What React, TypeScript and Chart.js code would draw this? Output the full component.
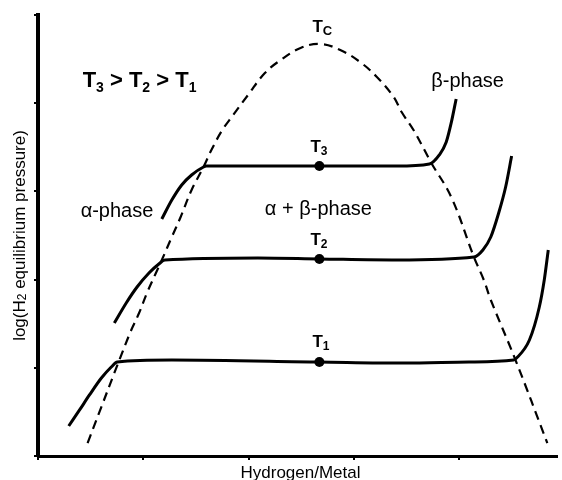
import React, { useEffect, useRef } from "react";
import { Chart, registerables } from "chart.js";

Chart.register(...registerables);

// Axis ticks (no tick labels in the figure)
const xTicks = [0, 1, 2, 3, 4];
const yTicks = [0, 1, 2, 3, 4, 5];
const xMax = 4.93;
const yMax = 5;

// Two-phase boundary (dashed dome)
const domeX = [0.471, 0.866, 0.96, 1.035, 1.12, 1.176, 1.271, 1.355, 1.459, 1.572, 1.647, 1.751, 1.854, 1.995, 2.155, 2.306, 2.494, 2.682, 2.871, 3.059, 3.219, 3.379, 3.454, 3.567, 3.671, 3.736, 3.925, 4.141, 4.235, 4.301, 4.536, 4.838];
const domeY = [0.147, 1.372, 1.621, 1.848, 2.075, 2.222, 2.483, 2.71, 3.016, 3.277, 3.469, 3.696, 3.866, 4.093, 4.342, 4.49, 4.626, 4.671, 4.603, 4.467, 4.297, 4.07, 3.9, 3.696, 3.469, 3.322, 2.937, 2.256, 1.995, 1.769, 1.088, 0.147];

// Isotherm T3
const t3X = [1.176, 1.271, 1.365, 1.459, 1.572, 1.6, 2.673, 3.407, 3.718, 3.812, 3.878, 3.925, 3.972];
const t3Y = [2.687, 2.902, 3.073, 3.186, 3.277, 3.288, 3.288, 3.288, 3.311, 3.413, 3.56, 3.776, 4.048];

// Isotherm T2
const t2X = [0.725, 0.838, 0.941, 1.054, 1.148, 1.205, 2.089, 2.673, 3.407, 4.141, 4.226, 4.301, 4.376, 4.442, 4.499];
const t2Y = [1.508, 1.735, 1.916, 2.075, 2.177, 2.222, 2.245, 2.234, 2.222, 2.256, 2.336, 2.483, 2.755, 3.05, 3.401];

// Isotherm T1
const t1X = [0.292, 0.395, 0.489, 0.602, 0.696, 0.753, 1.271, 2.673, 3.473, 4.094, 4.518, 4.546, 4.668, 4.762, 4.809, 4.847];
const t1Y = [0.34, 0.522, 0.692, 0.884, 1.009, 1.066, 1.088, 1.066, 1.054, 1.066, 1.088, 1.111, 1.315, 1.689, 1.995, 2.336];

// Plateau midpoint markers
const dotX = [2.673, 2.673, 2.673];
const dotY = [3.288, 2.234, 1.066];

// Phase labels
const phaseLabels = ["α-phase", "α + β-phase", "β-phase"];
const phaseLabelX = [0.405, 2.155, 3.736];
const phaseLabelY = [2.71, 2.732, 4.184];

// Temperature labels (T with subscript)
const tempSubs = ["C", "3", "2", "1"];
const tempLabelX = [2.607, 2.588, 2.588, 2.607];
const tempLabelY = [4.807, 3.447, 2.392, 1.236];

// Ordering label "T3 > T2 > T1"
const orderSubs = ["3", "2", "1"];
const orderLabelX = 0.424;
const orderLabelY = 4.184;

const xTitle = "Hydrogen/Metal";
const yTitleParts = ["log(H", "2", " equilibrium pressure)"];

const FONT = '"Liberation Sans", Arial, Helvetica, sans-serif';

type Seg = { t: string; size: number; bold?: boolean; dy?: number };

function segWidth(ctx: CanvasRenderingContext2D, segs: Seg[]) {
  let w = 0;
  for (const s of segs) {
    ctx.font = `${s.bold ? "bold " : ""}${s.size}px ${FONT}`;
    w += ctx.measureText(s.t).width;
  }
  return w;
}

function drawRich(ctx: CanvasRenderingContext2D, segs: Seg[], x: number, y: number) {
  let cx = x;
  for (const s of segs) {
    ctx.font = `${s.bold ? "bold " : ""}${s.size}px ${FONT}`;
    ctx.fillText(s.t, cx, y + (s.dy || 0));
    cx += ctx.measureText(s.t).width;
  }
}

const pts = (xs: number[], ys: number[]) => xs.map((x, i) => ({ x, y: ys[i] }));

const textPlugin = {
  id: "phaseText",
  afterDatasetsDraw(chart: any) {
    const ctx: CanvasRenderingContext2D = chart.ctx;
    const xs = chart.scales.x;
    const ys = chart.scales.y;
    const area = chart.chartArea;
    ctx.save();
    ctx.fillStyle = "#000";
    ctx.textBaseline = "alphabetic";
    ctx.textAlign = "left";

    // phase labels
    phaseLabels.forEach((t, i) => {
      drawRich(ctx, [{ t, size: 20 }], xs.getPixelForValue(phaseLabelX[i]), ys.getPixelForValue(phaseLabelY[i]));
    });

    // temperature labels
    tempSubs.forEach((s, i) => {
      drawRich(
        ctx,
        [
          { t: "T", size: 17, bold: true },
          { t: s, size: i === 0 ? 13 : 12, bold: true, dy: 3 },
        ],
        xs.getPixelForValue(tempLabelX[i]),
        ys.getPixelForValue(tempLabelY[i])
      );
    });

    // ordering label
    const oSegs: Seg[] = [];
    orderSubs.forEach((s, i) => {
      oSegs.push({ t: "T", size: 22, bold: true });
      oSegs.push({ t: s, size: 14, bold: true, dy: 5 });
      if (i < orderSubs.length - 1) oSegs.push({ t: " > ", size: 22, bold: true });
    });
    drawRich(ctx, oSegs, xs.getPixelForValue(orderLabelX), ys.getPixelForValue(orderLabelY));

    // x axis title
    const xSegs: Seg[] = [{ t: xTitle, size: 17 }];
    const xw = segWidth(ctx, xSegs);
    drawRich(ctx, xSegs, (area.left + area.right) / 2 + 3 - xw / 2, area.bottom + 22);

    // y axis title
    const ySegs: Seg[] = [
      { t: yTitleParts[0], size: 17 },
      { t: yTitleParts[1], size: 12, dy: 1 },
      { t: yTitleParts[2], size: 17 },
    ];
    const yw = segWidth(ctx, ySegs);
    ctx.translate(area.left - 13, (area.top + area.bottom) / 2);
    ctx.rotate(-Math.PI / 2);
    drawRich(ctx, ySegs, -yw / 2, 0);
    ctx.restore();
  },
};

export default function App() {
  const ref = useRef<HTMLCanvasElement | null>(null);
  useEffect(() => {
    if (!ref.current) return;
    const lineBase = {
      borderColor: "#000",
      backgroundColor: "#000",
      pointRadius: 0,
      fill: false,
      cubicInterpolationMode: "monotone" as const,
    };
    const chart = new Chart(ref.current, {
      type: "line",
      data: {
        datasets: [
          {
            label: "dome",
            data: pts(domeX, domeY),
            borderColor: "#000",
            pointRadius: 0,
            fill: false,
            tension: 0.4,
            borderWidth: 2.2,
            borderDash: [9, 6],
          },
          { ...lineBase, label: "T3", data: pts(t3X, t3Y), borderWidth: 3 },
          { ...lineBase, label: "T2", data: pts(t2X, t2Y), borderWidth: 3 },
          { ...lineBase, label: "T1", data: pts(t1X, t1Y), borderWidth: 3 },
          {
            label: "dots",
            data: pts(dotX, dotY),
            showLine: false,
            pointRadius: 5,
            pointBackgroundColor: "#000",
            pointBorderColor: "#000",
            pointBorderWidth: 0,
          },
        ],
      },
      options: {
        responsive: false,
        animation: false,
        events: [],
        layout: { padding: { top: 15, right: 0, left: 0, bottom: 0 } },
        plugins: { legend: { display: false }, tooltip: { enabled: false }, title: { display: false } },
        scales: {
          x: {
            type: "linear",
            min: 0,
            max: xMax,
            afterBuildTicks: (s: any) => {
              s.ticks = xTicks.map((v) => ({ value: v }));
            },
            afterFit: (s: any) => {
              s.height = 24;
            },
            ticks: { display: false },
            grid: { drawOnChartArea: false, drawTicks: true, tickLength: 4, color: "#000", lineWidth: 2 },
            border: { display: true, color: "#000", width: 3 },
          },
          y: {
            type: "linear",
            min: 0,
            max: yMax,
            afterBuildTicks: (s: any) => {
              s.ticks = yTicks.map((v) => ({ value: v }));
            },
            afterFit: (s: any) => {
              s.width = 38;
            },
            ticks: { display: false },
            grid: { drawOnChartArea: false, drawTicks: true, tickLength: 4, color: "#000", lineWidth: 2 },
            border: { display: true, color: "#000", width: 4 },
          },
        },
      },
      plugins: [textPlugin],
    });
    return () => chart.destroy();
  }, []);
  return (
    <div style={{ position: "absolute", left: 0, top: 0, width: 562, height: 480, background: "#fff" }}>
      <canvas ref={ref} width={562} height={480} style={{ display: "block" }} />
    </div>
  );
}
